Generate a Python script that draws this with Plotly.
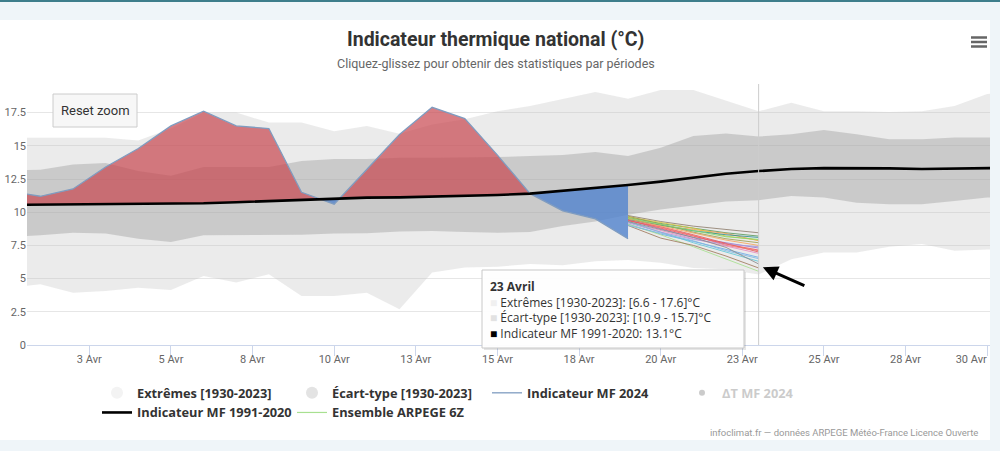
import plotly.graph_objects as go
from datetime import datetime, timedelta

# ------------------------------------------------------------------ data
# daily values, index 0 = 31 mars, index 1 = 1 avril, ... (values at noon)
start_day = datetime(2024, 3, 31, 12)

ext_hi = [15.6, 15.6, 15.6, 15.6, 15.4, 16.3, 17.5, 17.5, 16.75, 16.75, 16.1, 16.5,
          15.9, 16.6, 17.0, 17.6, 18.0, 18.5, 19.05, 18.55, 19.2, 19.2, 18.4, 17.6,
          18.25, 17.6, 17.6, 17.55, 17.6, 18.0, 18.9, 19.2]
ext_lo = [4.3, 4.57, 3.94, 4.07, 4.32, 4.14, 5.2, 4.7, 5.32, 3.69, 3.69, 3.94,
          2.69, 5.45, 5.83, 5.9, 6.1, 6.0, 6.3, 6.4, 6.2, 5.8, 5.7, 5.3,
          6.45, 6.96, 6.96, 7.4, 7.6, 7.1, 7.2, 7.2]
sd_hi = [13.15, 13.2, 13.6, 13.7, 13.1, 12.75, 13.4, 13.4, 13.4, 13.86, 14.0, 14.0,
         14.1, 14.1, 14.1, 14.15, 14.23, 14.3, 14.53, 14.23, 14.86, 15.74, 15.92, 15.7,
         15.87, 16.19, 15.87, 15.5, 15.5, 15.62, 15.62, 15.6]
sd_lo = [8.15, 8.26, 8.46, 8.4, 8.0, 7.76, 8.26, 8.26, 8.26, 8.3, 8.4, 8.41,
         8.55, 8.58, 8.5, 8.46, 8.5, 8.96, 9.3, 9.8, 10.2, 10.5, 10.8, 10.9,
         11.22, 11.1, 10.72, 10.6, 10.6, 10.85, 11.1, 11.2]
normal_9120 = [10.55, 10.57, 10.6, 10.62, 10.65, 10.65, 10.67, 10.75, 10.85, 10.95, 11.05, 11.1,
               11.12, 11.17, 11.22, 11.3, 11.4, 11.6, 11.85, 12.05, 12.3, 12.62, 12.9, 13.1,
               13.25, 13.32, 13.33, 13.3, 13.25, 13.27, 13.32, 13.35]
mf_2024 = [11.6, 11.2, 11.75, 13.4, 14.8, 16.5, 17.6, 16.5, 16.3, 11.5, 10.6, 13.2,
           15.85, 17.9, 17.05, 14.3, 11.4, 10.1, 9.5, 8.0]

# ARPEGE ensemble members, 19 -> 23 avril (index 19..23)
ens_first_index = 19
ens_members = [
    [9.75, 9.3, 8.95, 8.7, 8.45],
    [9.6, 9.15, 8.8, 8.45, 8.2],
    [9.55, 9.0, 8.7, 8.4, 7.85],
    [9.4, 8.75, 8.1, 7.7, 7.3],
    [9.35, 8.9, 8.3, 7.65, 7.0],
    [9.5, 8.85, 8.25, 7.5, 7.1],
    [9.25, 8.6, 8.0, 7.45, 6.9],
    [9.1, 8.35, 7.8, 7.2, 6.6],
    [9.3, 8.5, 7.7, 7.0, 6.3],
    [9.1, 8.3, 7.4, 6.45, 5.55],
    [9.0, 8.05, 7.5, 6.7, 5.8],
    [9.65, 9.2, 8.8, 8.2, 7.9],
    [9.45, 9.05, 8.6, 8.3, 8.1],
    [9.2, 8.5, 7.95, 7.6, 7.4],
    [9.5, 8.95, 8.45, 7.9, 7.5],
    [9.0, 8.4, 7.85, 7.1, 6.5],
    [9.7, 9.1, 8.5, 8.0, 7.7],
    [9.3, 8.7, 8.1, 7.35, 6.1],
    [9.4, 8.8, 8.2, 7.6, 7.15],
    [9.55, 9.1, 8.65, 8.15, 7.95],
]
ens_colors = ['#8f7f6f', '#5a9a5a', '#f09a50', '#9a78d0', '#e05a5a', '#f07878', '#e88ac0',
              '#6aa8e8', '#60c8d8', '#a8e090', '#a07a5e', '#d8c840', '#2b908f', '#a898d8',
              '#f7a35c', '#80b8e0', '#a0a050', '#8a8a8a', '#f45b5b', '#80d86d']
ens_legend_color = '#a8e090'

tick_dates = ['2024-04-03', '2024-04-05 12:00', '2024-04-08', '2024-04-10 12:00',
              '2024-04-13', '2024-04-15 12:00', '2024-04-18', '2024-04-20 12:00',
              '2024-04-23', '2024-04-25 12:00', '2024-04-28', '2024-04-30 12:00']
tick_text = ['3 Avr', '5 Avr', '8 Avr', '10 Avr', '13 Avr', '15 Avr', '18 Avr',
             '20 Avr', '23 Avr', '25 Avr', '28 Avr', '30 Avr']
y_ticks = [0, 2.5, 5, 7.5, 10, 12.5, 15, 17.5]
y_tick_text = ['0', '2.5', '5', '7.5', '10', '12.5', '15', '17.5']

tooltip_index = 23
tooltip_title = '23 Avril'
tooltip_lines = ['Extrêmes [1930-2023]: [6.6 - 17.6]°C',
                 'Écart-type [1930-2023]: [10.9 - 15.7]°C',
                 'Indicateur MF 1991-2020: 13.1°C']

# ------------------------------------------------------------------ layout geometry
W, H = 1000, 451
ML, MR, MT, MB = 27, 10, 84, 106
PW, PH = W - ML - MR, H - MT - MB


def px(x):
    return (x - ML) / PW


def py(y):
    return (H - MB - y) / PH


def day_date(f):
    return start_day + timedelta(days=f)


dates = [day_date(i) for i in range(len(ext_hi))]
day_px = 32.65
tick0 = datetime(2024, 4, 3)
x_range = [tick0 - timedelta(days=(89.3 - ML) / day_px),
           tick0 + timedelta(days=(W - MR - 89.3) / day_px)]
y_range = [0, PH / 13.28]

FONT = 'Roboto'
FONT2 = 'Open Sans'
fig = go.Figure()


def band(lo, hi, color):
    fig.add_trace(go.Scatter(x=dates, y=lo, mode='lines', line=dict(width=0),
                             showlegend=False, hoverinfo='skip'))
    fig.add_trace(go.Scatter(x=dates, y=hi, mode='lines', line=dict(width=0),
                             fill='tonexty', fillcolor=color, showlegend=False,
                             hoverinfo='skip'))


band(ext_lo, ext_hi, 'rgba(190,190,190,0.31)')
band(sd_lo, sd_hi, 'rgba(150,150,150,0.38)')

# split anomaly area into positive (red) and negative (blue) parts
n = len(mf_2024)
xs, up, dn, base = [0.0], [max(mf_2024[0], normal_9120[0])], [min(mf_2024[0], normal_9120[0])], [normal_9120[0]]
for i in range(1, n):
    d0 = mf_2024[i - 1] - normal_9120[i - 1]
    d1 = mf_2024[i] - normal_9120[i]
    if d0 * d1 < 0:
        t = d0 / (d0 - d1)
        yc = normal_9120[i - 1] + t * (normal_9120[i] - normal_9120[i - 1])
        xs.append(i - 1 + t)
        up.append(yc)
        dn.append(yc)
        base.append(yc)
    xs.append(float(i))
    up.append(max(mf_2024[i], normal_9120[i]))
    dn.append(min(mf_2024[i], normal_9120[i]))
    base.append(normal_9120[i])
xd = [day_date(v) for v in xs]

fig.add_trace(go.Scatter(x=xd, y=base, mode='lines', line=dict(width=0), showlegend=False, hoverinfo='skip'))
fig.add_trace(go.Scatter(x=xd, y=up, mode='lines', line=dict(width=0), fill='tonexty',
                         fillcolor='rgba(200,70,78,0.7)', showlegend=False, hoverinfo='skip'))
fig.add_trace(go.Scatter(x=xd, y=base, mode='lines', line=dict(width=0), showlegend=False, hoverinfo='skip'))
fig.add_trace(go.Scatter(x=xd, y=dn, mode='lines', line=dict(width=0), fill='tonexty',
                         fillcolor='rgba(80,130,205,0.8)', showlegend=False, hoverinfo='skip'))

fig.add_trace(go.Scatter(x=dates[:n], y=mf_2024, mode='lines', name='Indicateur MF 2024',
                         line=dict(color='#7f9cc0', width=1.3), legendrank=3, hoverinfo='skip'))

ens_dates = dates[ens_first_index:ens_first_index + len(ens_members[0])]
for k, (vals, col) in enumerate(zip(ens_members, ens_colors)):
    r, g, b = int(col[1:3], 16), int(col[3:5], 16), int(col[5:7], 16)
    fig.add_trace(go.Scatter(x=ens_dates, y=vals, mode='lines', name='Ensemble ARPEGE 6Z',
                             line=dict(color=f'rgba({r},{g},{b},0.85)', width=1),
                             showlegend=False, hoverinfo='skip'))

fig.add_trace(go.Scatter(x=dates, y=normal_9120, mode='lines', name='Indicateur MF 1991-2020',
                         line=dict(color='#000000', width=2.6), legendrank=5, hoverinfo='skip'))

# legend-only entries
fig.add_trace(go.Scatter(x=[None], y=[None], mode='markers', name='Extrêmes [1930-2023]',
                         marker=dict(size=12, color='#f3f3f3'), legendrank=1))
fig.add_trace(go.Scatter(x=[None], y=[None], mode='markers', name='Écart-type [1930-2023]',
                         marker=dict(size=12, color='#e3e3e3'), legendrank=2))
fig.add_trace(go.Scatter(x=[None], y=[None], mode='markers',
                         name='<span style="color:#999999">ΔT MF 2024</span>',
                         marker=dict(size=6, color='#999999'), legendrank=4,
                         visible='legendonly'))
fig.add_trace(go.Scatter(x=[None], y=[None], mode='lines', name='Ensemble ARPEGE 6Z',
                         line=dict(color=ens_legend_color, width=1.2), legendrank=6))
# invisible carrier for the overlaid axis holding the right-justified last tick label
fig.add_trace(go.Scatter(x=[None], y=[None], xaxis='x2', showlegend=False, hoverinfo='skip'))

shapes = []
annotations = []
# page background container
shapes.append(dict(type='rect', xref='paper', yref='paper', x0=px(-5), x1=px(990),
                   y0=py(440), y1=py(20), fillcolor='white', line=dict(width=0), layer='below'))
shapes.append(dict(type='rect', xref='paper', yref='paper', x0=px(-5), x1=px(1005),
                   y0=py(2), y1=py(-2), fillcolor='#3e7e8c', line=dict(width=0), layer='below'))
# crosshair
cross_x = dates[tooltip_index]
shapes.append(dict(type='line', xref='x', yref='paper', x0=cross_x, x1=cross_x, y0=0, y1=1,
                   line=dict(color='#cccccc', width=1), layer='above'))
# tooltip box
shapes.append(dict(type='rect', xref='paper', yref='paper', x0=px(484), x1=px(746),
                   y0=py(350), y1=py(272), fillcolor='rgba(0,0,0,0.10)', line=dict(width=0)))
shapes.append(dict(type='rect', xref='paper', yref='paper', x0=px(482), x1=px(744),
                   y0=py(348), y1=py(270), fillcolor='rgba(255,255,255,0.95)',
                   line=dict(color='#c8c8c8', width=1)))
# reset zoom button
shapes.append(dict(type='rect', xref='paper', yref='paper', x0=px(53), x1=px(137),
                   y0=py(127), y1=py(94), fillcolor='#f7f7f7', line=dict(color='#cccccc', width=1)))
annotations.append(dict(xref='paper', yref='paper', x=px(95), y=py(110.5), text='Reset zoom',
                        xanchor='center', yanchor='middle',
                        showarrow=False, font=dict(family=FONT, size=13, color='#333333')))
# hamburger menu
for yy in (37.5, 42, 46.5):
    shapes.append(dict(type='line', xref='paper', yref='paper', x0=px(971), x1=px(987),
                       y0=py(yy), y1=py(yy), line=dict(color='#666666', width=2.5)))

# title / subtitle / credits
annotations.append(dict(xref='paper', yref='paper', x=px(495.5), y=py(40),
                        xanchor='center', yanchor='middle',
                        text='<b>Indicateur thermique national (°C)</b>', showarrow=False,
                        font=dict(family=FONT, size=19.5, color='#333333')))
annotations.append(dict(xref='paper', yref='paper', x=px(496), y=py(63),
                        xanchor='center', yanchor='middle',
                        text='Cliquez-glissez pour obtenir des statistiques par périodes',
                        showarrow=False, font=dict(family=FONT, size=12.5, color='#666666')))
annotations.append(dict(xref='paper', yref='paper', x=px(980), y=py(432), xanchor='right',
                        yanchor='middle',
                        text='infoclimat.fr — données ARPEGE Météo-France Licence Ouverte',
                        showarrow=False, font=dict(family=FONT, size=9.5, color='#999999')))
# tooltip text (one block)
sq_cols = ['#f0f0f0', '#e2e2e2', '#000000']
tip_html = '<b>' + tooltip_title + '</b>'
for j, line_txt in enumerate(tooltip_lines):
    tip_html += f'<br><span style="color:{sq_cols[j]}">■</span> ' + line_txt
annotations.append(dict(xref='paper', yref='paper', x=px(488), y=py(276), xanchor='left',
                        yanchor='top', align='left', text=tip_html, showarrow=False,
                        font=dict(family=FONT2, size=12, color='#333333')))
# arrow
annotations.append(dict(xref='x', yref='y', x=day_date(23.13), y=5.85, ax=43, ay=19,
                        text='', showarrow=True, arrowhead=2, arrowsize=1, arrowwidth=3,
                        arrowcolor='#000000', standoff=0))

tick_font = dict(family=FONT, size=11, color='#666666')
fig.update_layout(
    width=W, height=H,
    margin=dict(l=ML, r=MR, t=MT, b=MB),
    paper_bgcolor='#eff5f9', plot_bgcolor='rgba(0,0,0,0)',
    font=dict(family=FONT, color='#333333'),
    hovermode=False,
    shapes=shapes, annotations=annotations,
    legend=dict(orientation='h', x=px(97), y=py(378), xanchor='left', yanchor='top',
                traceorder='normal',
                entrywidth=150, entrywidthmode='pixels', bgcolor='rgba(0,0,0,0)',
                font=dict(family=FONT2, size=12.8, color='#333333', weight='bold'),
                tracegroupgap=0, itemclick=False),
    xaxis=dict(type='date', range=x_range, tickvals=tick_dates,
               ticktext=tick_text[:-1] + [''],
               showgrid=False, showline=True, linecolor='#ccd6eb', linewidth=1,
               ticks='outside', ticklen=10, tickcolor='#ccd6eb', automargin=False,
               ticklabelstandoff=-6, tickfont=tick_font, zeroline=False),
    xaxis2=dict(type='date', overlaying='x', matches='x', anchor='y', side='bottom',
                tickvals=tick_dates[-1:], ticktext=tick_text[-1:],
                showgrid=False, showline=False, ticks='outside', ticklen=10,
                tickcolor='rgba(0,0,0,0)', automargin=False, ticklabelstandoff=-6,
                ticklabelshift=-16, tickfont=tick_font, zeroline=False),
    yaxis=dict(range=y_range, tickvals=y_ticks, ticktext=y_tick_text, showgrid=True,
               gridcolor='#e6e6e6', gridwidth=1, zeroline=False, showline=False, ticks='',
               automargin=False, tickfont=tick_font),
)

fig.write_html('out.html', config={'displayModeBar': False})
